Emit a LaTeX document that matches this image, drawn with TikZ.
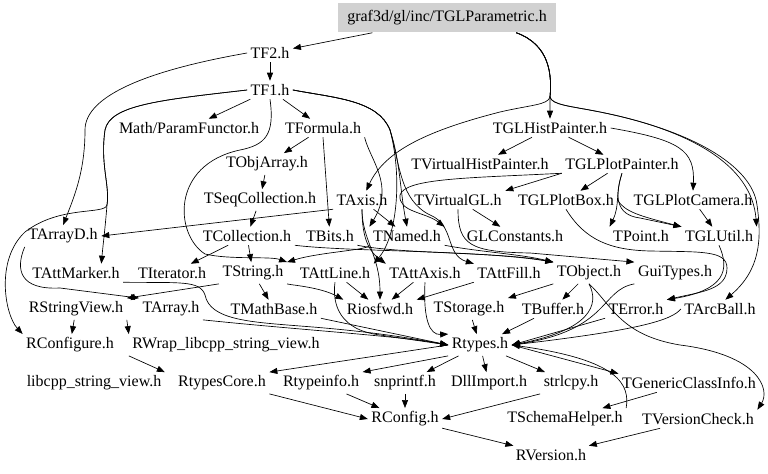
\documentclass[tikz,border=0pt]{standalone}
\usepackage{fontspec}
\setmainfont{Liberation Serif}
\usetikzlibrary{arrows.meta,positioning}

\begin{document}
\begin{tikzpicture}[
    x=0.75pt, y=-0.75pt,
    file/.style={inner sep=2.5pt, font=\fontsize{12}{14}\selectfont},
    mainfile/.style={file, fill=black!18, minimum width=163.5pt, minimum height=21.75pt},
    arrow/.style={-{Triangle[length=6pt,width=4.5pt]}, line width=0.5pt}
]
    \useasboundingbox (0,0) rectangle (768,474);

    % the documented file
    \node[mainfile] (top) at (447,18) {graf3d/gl/inc/TGLParametric.h};

    % upper rows
    \node[file] (tf2) at (270,53) {TF2.h};
    \node[file] (tf1) at (270,90) {TF1.h};
    \node[file] (paramfunctor) at (189,128) {Math/ParamFunctor.h};
    \node[file] (tformula) at (323,128) {TFormula.h};
    \node[file] (tglhistpainter) at (550,128) {TGLHistPainter.h};
    \node[file] (tobjarray) at (267,164) {TObjArray.h};
    \node[file] (tvirtualhistpainter) at (480,164) {TVirtualHistPainter.h};
    \node[file] (tglplotpainter) at (622,164) {TGLPlotPainter.h};
    \node[file] (tseqcollection) at (260,200) {TSeqCollection.h};
    \node[file] (taxis) at (362,200) {TAxis.h};
    \node[file] (tvirtualgl) at (458,200) {TVirtualGL.h};
    \node[file] (tglplotbox) at (566,200) {TGLPlotBox.h};
    \node[file] (tglplotcamera) at (693,200) {TGLPlotCamera.h};

    % middle rows
    \node[file] (tarrayd) at (63,236) {TArrayD.h};
    \node[file] (tcollection) at (247,236) {TCollection.h};
    \node[file] (tbits) at (330,236) {TBits.h};
    \node[file] (tnamed) at (407,236) {TNamed.h};
    \node[file] (glconstants) at (515,236) {GLConstants.h};
    \node[file] (tpoint) at (641,236) {TPoint.h};
    \node[file] (tglutil) at (719,236) {TGLUtil.h};
    \node[file] (tattmarker) at (76,273) {TAttMarker.h};
    \node[file] (titerator) at (172,273) {TIterator.h};
    \node[file] (tstring) at (253,273) {TString.h};
    \node[file] (tattline) at (335,273) {TAttLine.h};
    \node[file] (tattaxis) at (425,273) {TAttAxis.h};
    \node[file] (tattfill) at (509,273) {TAttFill.h};
    \node[file] (tobject) at (589,273) {TObject.h};
    \node[file] (guitypes) at (675,273) {GuiTypes.h};
    \node[file] (rstringview) at (76,309) {RStringView.h};
    \node[file] (tarray) at (171,309) {TArray.h};
    \node[file] (tmathbase) at (274,309) {TMathBase.h};
    \node[file] (riosfwd) at (380,309) {Riosfwd.h};
    \node[file] (tstorage) at (469,309) {TStorage.h};
    \node[file] (tbuffer) at (553,309) {TBuffer.h};
    \node[file] (terror) at (636,309) {TError.h};
    \node[file] (tarcball) at (720,309) {TArcBall.h};

    % lower rows
    \node[file] (rconfigure) at (70,345) {RConfigure.h};
    \node[file] (rwrap) at (226,345) {RWrap\_libcpp\_string\_view.h};
    \node[file] (rtypes) at (480,345) {Rtypes.h};
    \node[file] (libcpp) at (94,383) {libcpp\_string\_view.h};
    \node[file] (rtypescore) at (222,383) {RtypesCore.h};
    \node[file] (rtypeinfo) at (321,383) {Rtypeinfo.h};
    \node[file] (snprintf) at (405,383) {snprintf.h};
    \node[file] (dllimport) at (489,383) {DllImport.h};
    \node[file] (strlcpy) at (571,383) {strlcpy.h};
    \node[file] (tgenericclassinfo) at (689,383) {TGenericClassInfo.h};
    \node[file] (rconfig) at (405,419) {RConfig.h};
    \node[file] (tschemahelper) at (565,419) {TSchemaHelper.h};
    \node[file] (tversioncheck) at (698,419) {TVersionCheck.h};
    \node[file] (rversion) at (551,455) {RVersion.h};

    % edges from the documented file
    \draw[arrow] (top) -- (tf2);
    \draw[arrow] ([xshift=52pt]top.south) .. controls (550,45) and (552,75) .. (550,97) -- (tglhistpainter);
    \draw[arrow] ([xshift=52pt]top.south) .. controls (550,45) and (552,75) .. (550,97)
        .. controls (548,105) and (530,105) .. (500,112) .. controls (430,130) and (385,150) .. (taxis);
    \draw[arrow] ([xshift=52pt]top.south) .. controls (550,45) and (552,75) .. (550,97)
        .. controls (552,105) and (570,106) .. (600,112) .. controls (690,130) and (752,165) .. (tglutil.north east);
    \draw[arrow] ([xshift=52pt]top.south) .. controls (550,45) and (552,75) .. (550,97)
        .. controls (552,105) and (570,106) .. (600,112) .. controls (690,130) and (752,165) .. (757,205)
        .. controls (762,240) and (760,270) .. (tarcball.60);

    % TF2, TF1
    \draw[arrow] (tf2) -- (tf1);
    \draw[arrow] (tf2.west) .. controls (150,70) and (85,95) .. (85,130) .. controls (85,170) and (75,195) .. (tarrayd.north);
    \draw[arrow] (tf1) -- (paramfunctor);
    \draw[arrow] (tf1) -- (tformula);
    \draw[arrow] (tf1.west) .. controls (160,100) and (110,105) .. (105,130) .. controls (100,165) and (110,185) .. (107,205)
        .. controls (105,230) and (103,245) .. ([xshift=19pt]tattmarker.north);
    \draw[arrow] (tf1.west) .. controls (160,100) and (110,105) .. (105,130) .. controls (100,165) and (110,185) .. (107,205)
        .. controls (105,215) and (60,205) .. (25,232) .. controls (-5,260) and (5,315) .. (rconfigure.north west);
    \draw[arrow] (tf1.south) .. controls (275,135) and (265,145) .. (240,150) .. controls (170,165) and (175,235) .. (205,254)
        .. controls (230,260) and (270,256) .. (tstring.north east);
    \draw[arrow] (tf1.east) .. controls (335,98) and (378,100) .. (390,130) .. controls (400,160) and (400,190) .. (tnamed.north);
    \draw[arrow] (tf1.east) .. controls (335,98) and (378,100) .. (390,130) .. controls (400,165) and (400,200) .. (430,215)
        .. controls (455,225) and (445,255) .. (tattfill.north west);
    \draw[arrow] (tf1.east) .. controls (335,98) and (378,100) .. (390,130) .. controls (402,175) and (398,235) .. (tattline.north east);

    % TFormula and collections
    \draw[arrow] (tformula) -- (tobjarray);
    \draw[arrow] (tformula.south) -- (tbits);
    \draw[arrow] (tformula.south east) .. controls (370,160) and (395,185) .. (tnamed.north west);
    \draw[arrow] (tobjarray) -- (tseqcollection);
    \draw[arrow] (tseqcollection) -- (tcollection);
    \draw[arrow] (tcollection) -- (titerator);
    \draw[arrow] (tcollection) -- (tstring);
    \draw[arrow] (tcollection.south east) .. controls (350,252) and (480,250) .. (tobject.north west);
    \draw[arrow] (tbits.south east) .. controls (400,254) and (500,252) .. (tobject.north west);
    \draw[arrow] (tnamed.south east) .. controls (480,252) and (520,254) .. (tobject.north west);
    \draw[arrow] (tnamed.south west) .. controls (370,250) and (320,252) .. (tstring.north east);

    % TAxis
    \draw[arrow] (taxis.south west) -- (tarrayd.east);
    \draw[arrow] (taxis) -- (tnamed);
    \draw[arrow] (taxis.south) .. controls (362,240) and (370,252) .. (tattaxis.north west);
    \draw[arrow] (taxis.south) .. controls (362,240) and (380,255) .. (riosfwd.north);

    % GL painters
    \draw[arrow] (tglhistpainter) -- (tvirtualhistpainter);
    \draw[arrow] (tglhistpainter) -- (tglplotpainter);
    \draw[arrow] (tglhistpainter.east) .. controls (680,140) and (695,150) .. (tglplotcamera.north);
    \draw[arrow] (tglplotpainter.south west) -- (tvirtualgl.north east);
    \draw[arrow] (tglplotpainter) -- (tglplotbox);
    \draw[arrow] (tglplotpainter.south) .. controls (615,195) and (620,205) .. (tpoint.north west);
    \draw[arrow] (tglplotpainter.south) .. controls (615,195) and (615,215) .. (640,218) -- (tglutil.north west);
    \draw[arrow] (tglplotpainter.south west) .. controls (470,178) and (405,178) .. (400,195)
        .. controls (398,212) and (425,212) .. (tnamed.north east);
    \draw[arrow] (tglplotbox.east) .. controls (625,212) and (640,216) .. (tglutil.north west);
    \draw[arrow] (tglplotcamera) -- (tglutil);
    \draw[arrow] (tvirtualgl) -- (glconstants);
    \draw[arrow] (tvirtualgl.south) .. controls (458,245) and (470,252) .. (530,253) -- (guitypes.north west);
    \draw[arrow] (tglplotbox.south) .. controls (585,240) and (610,250) .. (650,251) .. controls (700,252) and (727,250) .. (727,268)
        .. controls (727,290) and (700,292) .. (terror.north east);
    \draw[arrow] (tglutil.south) .. controls (730,270) and (725,290) .. (terror.north east);

    % left part
    \draw[arrow] (tarrayd.south west) .. controls (15,270) and (20,290) .. (60,288) -- (tarray.north west);
    \draw[arrow] (tstring.south west) -- (rstringview.north east);
    \draw[arrow] (tstring) -- (tmathbase);
    \draw[arrow] (tstring.south east) .. controls (290,285) and (320,287) .. (riosfwd.north west);
    \draw[arrow] (tattmarker.south east) .. controls (180,283) and (200,280) .. (205,295)
        .. controls (210,320) and (250,322) .. (300,326) .. controls (380,332) and (420,340) .. (rtypes.west);
    \draw[arrow] (tarray.south east) .. controls (300,330) and (400,336) .. (rtypes.west);
    \draw[arrow] (tmathbase.south east) -- (rtypes.west);
    \draw[arrow] (tattline.south) .. controls (332,305) and (340,330) .. (380,335) -- (rtypes.west);
    \draw[arrow] (tattline) -- (riosfwd);
    \draw[arrow] (tattaxis) -- (riosfwd);
    \draw[arrow] (tattfill.south west) -- (riosfwd.north east);
    \draw[arrow] (tattaxis.south) .. controls (423,320) and (430,335) .. (rtypes.north west);
    \draw[arrow] (rstringview) -- (rconfigure);
    \draw[arrow] (rstringview.south east) -- (rwrap.north west);
    \draw[arrow] (rwrap.south west) -- (libcpp.north east);

    % TObject and the right part
    \draw[arrow] (tobject.south west) -- (tstorage.north east);
    \draw[arrow] (tobject) -- (tbuffer);
    \draw[arrow] (tobject.south) .. controls (600,305) and (590,330) .. (rtypes.east);
    \draw[arrow] (tobject.south) .. controls (612,305) and (620,335) .. (680,345) .. controls (760,355) and (770,390) .. (tversioncheck.north east);
    \draw[arrow] (guitypes.south west) .. controls (600,290) and (610,330) .. (rtypes.east);
    \draw[arrow] (terror.south west) -- (rtypes.east);
    \draw[arrow] (tarcball.west) .. controls (672,320) and (640,330) .. (rtypes.east);
    \draw[arrow] (tstorage) -- (rtypes);
    \draw[arrow] (tbuffer) -- (rtypes);

    % Rtypes and below
    \draw[arrow] (rtypes.west) -- (rtypescore.north east);
    \draw[arrow] (rtypes.south west) -- (rtypeinfo.north east);
    \draw[arrow] (rtypes) -- (snprintf);
    \draw[arrow] (rtypes) -- (dllimport);
    \draw[arrow] (rtypes) -- (strlcpy);
    \draw[arrow] (rtypes.east) -- (tgenericclassinfo.north west);
    \draw[arrow] (tschemahelper.north east) .. controls (630,385) and (620,360) .. (rtypes.east);
    \draw[arrow] (tgenericclassinfo) -- (tschemahelper);
    \draw[arrow] (rtypescore.south east) -- (rconfig.west);
    \draw[arrow] (rtypeinfo) -- (rconfig);
    \draw[arrow] (snprintf) -- (rconfig);
    \draw[arrow] (strlcpy.south west) -- (rconfig.east);
    \draw[arrow] (rconfig) -- (rversion);
    \draw[arrow] (tversioncheck) -- (rversion);
\end{tikzpicture}
\end{document}
